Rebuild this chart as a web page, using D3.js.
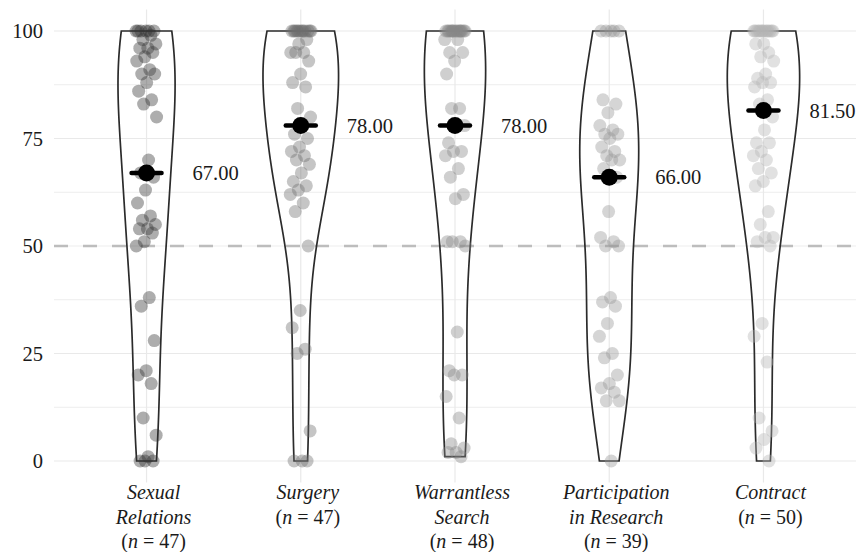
<!DOCTYPE html>
<html><head><meta charset="utf-8">
<script src="https://cdn.jsdelivr.net/npm/d3@7"></script>
<style>body{margin:0;background:#fff}</style>
</head><body><svg id="c" width="856" height="552"></svg>
<script>
const categories = ["Sexual Relations","Surgery","Warrantless Search","Participation in Research","Contract"];
const labelLines = [["Sexual","Relations"],["Surgery"],["Warrantless","Search"],["Participation","in Research"],["Contract"]];
const sampleSizes = [47,47,48,39,50];
const sexualRelations = [100,100,100,100,100,100,99,98,97,96,96,95,94,93,91,90,90,88,86,84,83,80,70,67,66,63,60,57,56,55,54,54,53,51,50,38,36,28,21,20,18,10,6,1,0,0,0];
const surgery = [100,100,100,100,100,100,100,100,100,100,100,100,98,97,95,95,95,93,90,88,87,82,80,78,76,75,73,72,71,70,69,67,65,64,63,62,60,58,50,35,31,26,25,7,0,0,0];
const warrantlessSearch = [100,100,100,100,100,100,100,100,100,100,100,100,100,100,100,98,98,95,95,93,90,82,82,78,78,74,72,72,71,68,66,62,61,51,51,51,50,30,21,20,20,15,10,4,3,2,2,1];
const participation = [100,100,100,100,100,84,83,81,78,77,76,76,75,73,72,71,70,70,68,66,58,52,51,50,50,38,37,36,32,29,25,24,20,18,17,16,14,14,0];
const contract = [100,100,100,100,100,100,100,100,100,100,100,100,100,97,97,95,94,93,90,89,88,88,87,84,83,80,77,74,74,72,71,70,68,67,65,64,58,55,52,52,51,50,32,29,23,10,7,5,3,0];
const seriesValues = [sexualRelations, surgery, warrantlessSearch, participation, contract];
const pointGreys = ["#333333","#6e6e6e","#888888","#969696","#b4b4b4"];
const yTicks = [0,25,50,75,100];
const yMinorTicks = [12.5,37.5,62.5,87.5];
const referenceLine = 50;

const panel = {left:54, right:856, top:9.5, bottom:482.5};
const svg = d3.select("#c");
const x = d3.scalePoint().domain(categories).range([panel.left, panel.right]).padding(0.6);
const y = d3.scaleLinear().domain([-5,105]).range([panel.bottom, panel.top]);
const step = x.step();
const serif = "'Liberation Serif', 'Times New Roman', serif";

// grid
const g = svg.append("g");
g.selectAll(".minor").data(yMinorTicks).join("line")
  .attr("x1",panel.left).attr("x2",panel.right).attr("y1",d=>y(d)).attr("y2",d=>y(d))
  .attr("stroke","#ededed").attr("stroke-width",1);
g.selectAll(".major").data(yTicks.filter(d=>d!==referenceLine)).join("line")
  .attr("x1",panel.left).attr("x2",panel.right).attr("y1",d=>y(d)).attr("y2",d=>y(d))
  .attr("stroke","#e9e9e9").attr("stroke-width",1.2);
g.append("line").attr("x1",panel.left).attr("x2",panel.right).attr("y1",y(referenceLine)).attr("y2",y(referenceLine))
  .attr("stroke","#ededed").attr("stroke-width",1.2);
g.selectAll(".vg").data(categories).join("line")
  .attr("x1",d=>x(d)).attr("x2",d=>x(d)).attr("y1",panel.top).attr("y2",panel.bottom)
  .attr("stroke","#e9e9e9").attr("stroke-width",1.2);
g.append("line").attr("x1",panel.left).attr("x2",panel.right).attr("y1",y(referenceLine)).attr("y2",y(referenceLine))
  .attr("stroke","#bdbdbd").attr("stroke-width",2.6).attr("stroke-dasharray","14,15");

// y axis labels
svg.append("g").selectAll("text").data(yTicks).join("text")
  .attr("x",43).attr("y",d=>y(d)).attr("text-anchor","end").attr("dominant-baseline","central")
  .attr("font-family",serif).attr("font-size",20.5).attr("fill","#1a1a1a").text(d=>d);

// KDE (gaussian, nrd0 bandwidth with adjust), trimmed to data range
const bwAdjust = 1.35;
function nrd0(v){
  const s=v.slice().sort(d3.ascending);
  const sd=d3.deviation(s);
  const iqr=d3.quantileSorted(s,0.75)-d3.quantileSorted(s,0.25);
  let lo=Math.min(sd, iqr/1.34);
  if(!(lo>0)) lo = sd || Math.abs(s[0]) || 1;
  return 0.9*lo*Math.pow(s.length,-0.2);
}
function kde(v){
  const bw=nrd0(v)*bwAdjust, lo=d3.min(v), hi=d3.max(v), n=512;
  const c=1/(v.length*bw*Math.sqrt(2*Math.PI));
  return d3.range(n).map(i=>{
    const t=lo+(hi-lo)*i/(n-1);
    return [t, c*d3.sum(v,u=>Math.exp(-0.5*((t-u)/bw)**2))];
  });
}
const dens = seriesValues.map(kde);
const maxD = d3.max(dens, d=>d3.max(d, p=>p[1]));
const wScale = d3.scaleLinear().domain([0,maxD]).range([0, step*0.49/2]);

const vg = svg.append("g");
categories.forEach((cat,i)=>{
  const cx = x(cat);
  const area = d3.area().y(d=>y(d[0])).x0(d=>cx-wScale(d[1])).x1(d=>cx+wScale(d[1]));
  vg.append("path").attr("d",area(dens[i])).attr("fill","none").attr("stroke","#2b2b2b").attr("stroke-width",1.7);
});

// points with deterministic jitter
const pg = svg.append("g");
categories.forEach((cat,i)=>{
  const cx = x(cat);
  pg.selectAll(null).data(seriesValues[i]).join("circle")
    .attr("cx",(d,j)=>cx + (((j*0.6180339887 + i*0.37) % 1) - 0.5)*21)
    .attr("cy",d=>y(d)).attr("r",6.5)
    .attr("fill",pointGreys[i]).attr("fill-opacity",0.4);
});

// medians
const mg = svg.append("g");
categories.forEach((cat,i)=>{
  const cx = x(cat), m = d3.median(seriesValues[i]);
  mg.append("line").attr("x1",cx-15).attr("x2",cx+15).attr("y1",y(m)).attr("y2",y(m))
    .attr("stroke","#000").attr("stroke-width",4.5).attr("stroke-linecap","round");
  mg.append("circle").attr("cx",cx).attr("cy",y(m)).attr("r",8.5).attr("fill","#000");
  mg.append("text").attr("x",cx+46).attr("y",y(m)).attr("dominant-baseline","central")
    .attr("font-family",serif).attr("font-size",20.5).attr("fill","#1a1a1a").text(m.toFixed(2));
});

// x labels
const baselines = [498.5, 523.5, 547.5];
const xg = svg.append("g").attr("font-family",serif).attr("font-size",20).attr("fill","#1a1a1a");
categories.forEach((cat,i)=>{
  const cx = x(cat)+7;
  labelLines[i].forEach((ln,k)=>{
    xg.append("text").attr("x",cx).attr("y",baselines[k]).attr("text-anchor","middle")
      .attr("font-style","italic").text(ln);
  });
  const t = xg.append("text").attr("x",cx).attr("y",baselines[labelLines[i].length]).attr("text-anchor","middle");
  t.append("tspan").text("(");
  t.append("tspan").attr("font-style","italic").text("n");
  t.append("tspan").text(" = " + sampleSizes[i] + ")");
});
</script>
</body></html>
